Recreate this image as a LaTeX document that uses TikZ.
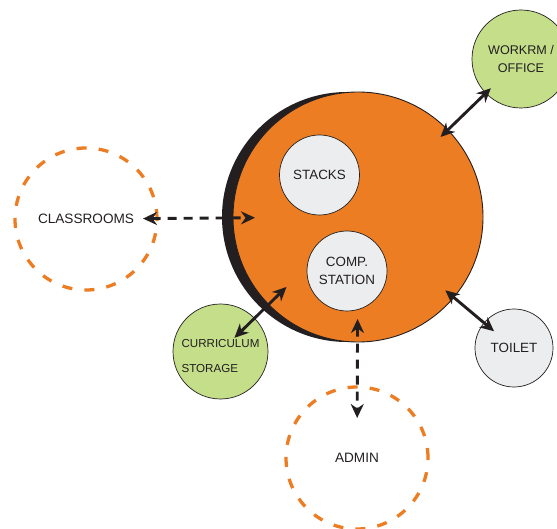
\documentclass[tikz,border=0pt]{standalone}
\usepackage{fontspec}
\setmainfont{Liberation Sans}
\usetikzlibrary{arrows.meta}
\definecolor{plorange}{RGB}{237,125,35}
\definecolor{plgreen}{RGB}{196,222,138}
\definecolor{plgrey}{RGB}{236,237,239}
\definecolor{plink}{RGB}{35,31,32}

\begin{document}
\begin{tikzpicture}[x=1pt,y=-1pt,
        room/.style={circle,draw=plink,line width=0.7pt,text=plink,inner sep=0pt,outer sep=0pt,align=center,font=\fontsize{13.4}{18}\selectfont},
        future/.style={circle,draw=plorange,line width=3.3pt,dash pattern=on 10pt off 12.2pt,text=plink,inner sep=0pt,outer sep=0pt,minimum size=142pt,font=\fontsize{13.6}{16}\selectfont},
        link/.style={draw=plink,line width=2.9pt,{Stealth[length=14pt,width=13pt,inset=4.5pt]}-{Stealth[length=14pt,width=13pt,inset=4.5pt]}},
        maybe/.style={link,dash pattern=on 9pt off 7pt}]
        \useasboundingbox (0,0) rectangle (557,529);

        \fill[plink] (347,217) circle (125);
        \node[room,fill=plorange,line width=0.9pt,minimum size=250pt] (hub) at (358,217) {};

        \node[room,fill=plgrey,minimum size=80pt] (stacks) at (319.5,175) {STACKS};
        \node[room,fill=plgrey,minimum size=80pt] (comp) at (347,271) {COMP.\\STATION};

        \node[future] (classes) at (86,219) {CLASSROOMS};
        \node[future] (admin) at (357,458) {ADMIN};

        \node[room,fill=plgreen,minimum size=95pt] (curric) at (220.5,351.5) {};
        \node[font=\fontsize{11.6}{14}\selectfont,text=plink,align=left] at ([yshift=-5pt]curric) {CURRICULUM\\[11pt]STORAGE};
        \node[room,fill=plgreen,minimum size=98pt,font=\fontsize{12.6}{18}\selectfont] (office) at (521,59) {WORKRM /\\OFFICE};
        \node[room,fill=plgrey,minimum size=78pt] (toilet) at (514,348) {TOILET};

        \draw[maybe,shorten <=-14pt,shorten >=-22pt] (classes) -- (hub);
        \draw[maybe,shorten <=-23pt,shorten >=-31pt] (hub) -- (admin);
        \draw[link,shorten <=-28pt,shorten >=-25pt] (curric) -- (hub);
        \draw[link,shorten <=-7pt,shorten >=-10pt] (office) -- (hub);
        \draw[link,shorten <=-13pt,shorten >=-11pt] (toilet) -- (hub);
    \end{tikzpicture}
\end{document}
